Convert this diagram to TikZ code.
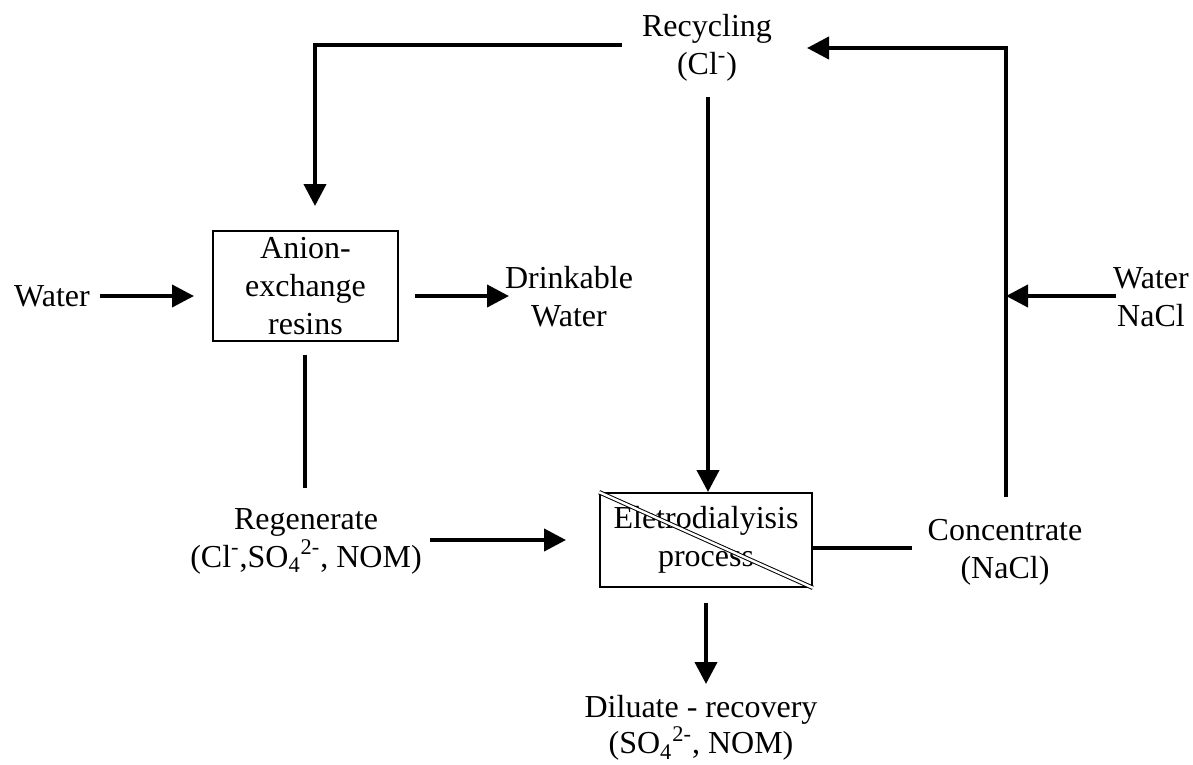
\documentclass[tikz,border=0pt]{standalone}
\usepackage{fontspec}
\setmainfont{Liberation Serif}
\usetikzlibrary{arrows.meta}
\tikzset{
  lbl/.style={align=center,font=\fontsize{16}{19}\selectfont,inner sep=0pt},
  boxed/.style={draw,line width=0.8pt,inner sep=0pt},
  arr/.style={line width=2pt,-{Triangle[length=11pt,width=11pt]}},
  ln/.style={line width=2pt},
}
\begin{document}
\begin{tikzpicture}[x=0.5pt,y=-0.5pt]
\useasboundingbox (0,0) rectangle (1193,765);
% boxes
\node[boxed,minimum width=92.5pt,minimum height=55pt] (aer) at (305.5,286) {};
\node[lbl] at (305.5,286) {Anion-\\exchange\\resins};
\node[boxed,minimum width=106pt,minimum height=47pt] (ed) at (706,540) {};
\node[lbl] at (706,540) {Eletrodialyisis\\process};
\draw[double,line width=0.5pt,double distance=1.2pt] (ed.north west) -- (ed.south east);
% texts
\node[lbl] (water) at (52,296) {Water};
\node[lbl] (drink) at (569,297) {Drinkable\\Water};
\node[lbl] (regen) at (306,541) {Regenerate\\(Cl\textsuperscript{-},SO\textsubscript{4}\textsuperscript{2-}, NOM)};
\node[lbl] (recyc) at (707,48) {Recycling\\(Cl\textsuperscript{-})};
\node[lbl] (wn) at (1151,297) {Water\\NaCl};
\node[lbl] (conc) at (1005,552) {Concentrate\\(NaCl)};
\node[lbl,font=\fontsize{16}{16}\selectfont] (dil) at (701,728) {Diluate - recovery\\(SO\textsubscript{4}\textsuperscript{2-}, NOM)};
% coordinates
\coordinate (wa) at (100,296);
\coordinate (wb) at (194,296);
\coordinate (da) at (415,296);
\coordinate (db) at (509,296);
\coordinate (va) at (305,355);
\coordinate (vb) at (305,488);
\coordinate (ra) at (430,540);
\coordinate (rb) at (566,540);
\coordinate (ca) at (708,97);
\coordinate (cb) at (708,492);
\coordinate (ta) at (622,45);
\coordinate (tc) at (315,45);
\coordinate (tb) at (315,206);
\coordinate (ea) at (1006,497);
\coordinate (ec) at (1006,48);
\coordinate (eb) at (807,48);
\coordinate (na) at (1116,296);
\coordinate (nb) at (1006,296);
\coordinate (ka) at (813,548);
\coordinate (kb) at (912,548);
\coordinate (da2) at (706,603);
\coordinate (db2) at (706,684);
% connectors
\draw[arr] (wa) -- (wb);
\draw[arr] (da) -- (db);
\draw[ln] (va) -- (vb);
\draw[arr] (ra) -- (rb);
\draw[arr] (ca) -- (cb);
\draw[arr] (ta) -- (tc) -- (tb);
\draw[arr] (ea) -- (ec) -- (eb);
\draw[arr] (na) -- (nb);
\draw[ln] (ka) -- (kb);
\draw[arr] (da2) -- (db2);
\end{tikzpicture}
\end{document}
